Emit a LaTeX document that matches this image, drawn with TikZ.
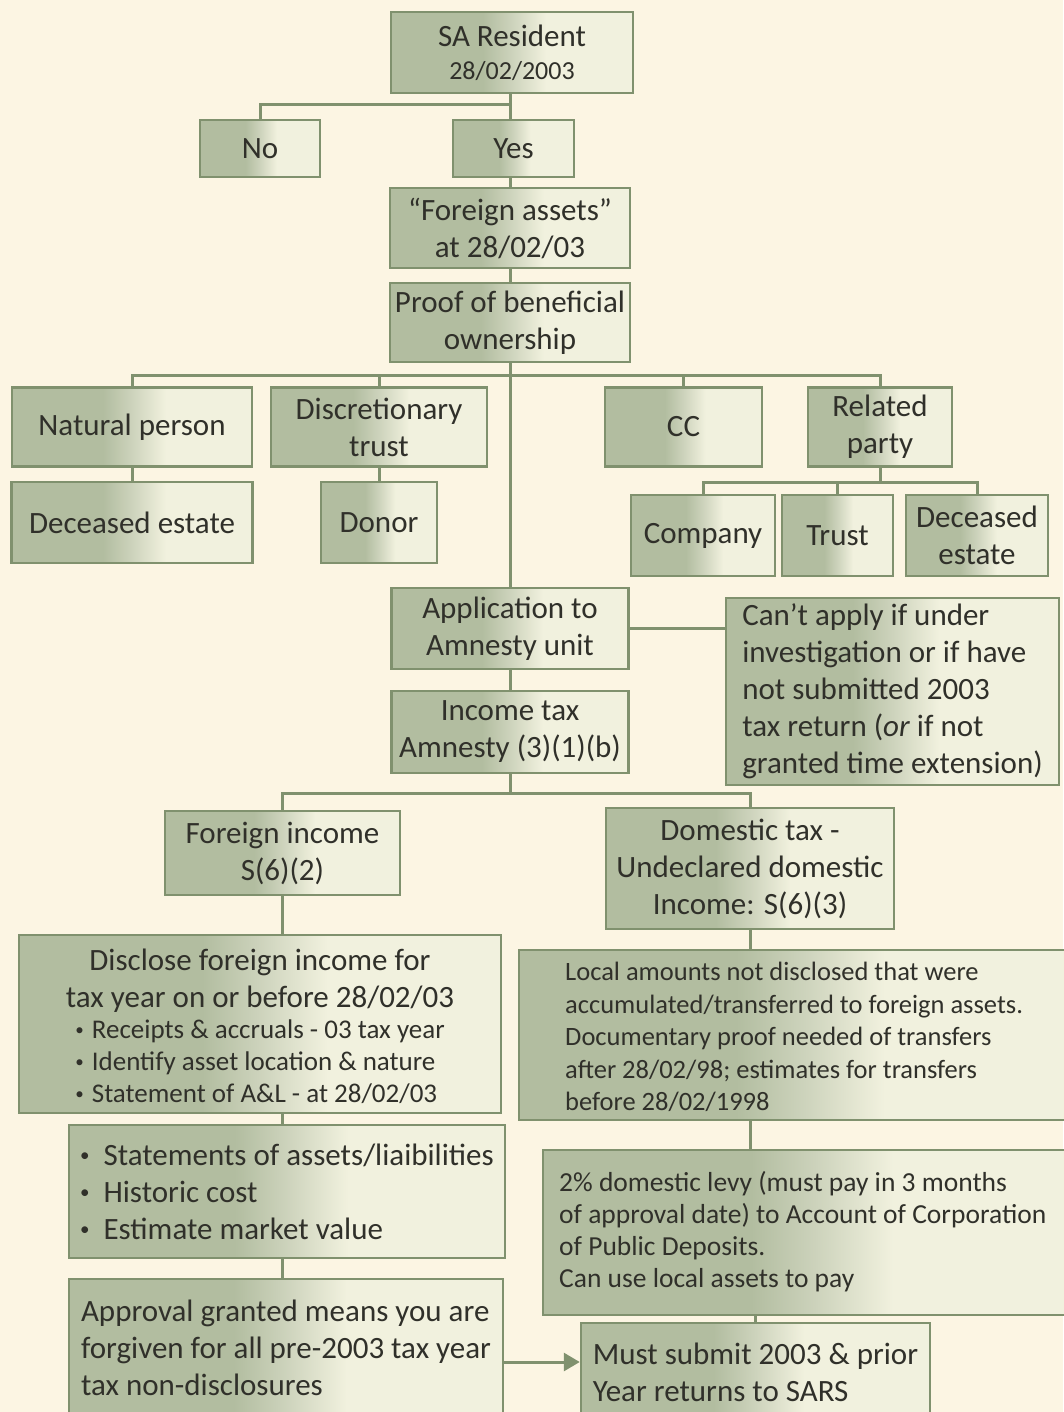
\documentclass[tikz,border=0pt]{standalone}
\usepackage{fontspec}
\setmainfont{Carlito}
\usetikzlibrary{arrows.meta}
\definecolor{bgcol}{RGB}{252,245,227}
\definecolor{boxdark}{RGB}{178,189,160}
\definecolor{boxmid}{RGB}{205,211,188}
\definecolor{boxlight}{RGB}{241,241,222}
\definecolor{edgecol}{RGB}{128,145,110}
\definecolor{txtcol}{RGB}{48,48,42}
\pgfdeclarehorizontalshading{boxshade}{100bp}{color(0bp)=(boxdark); color(25bp)=(boxdark); color(44bp)=(boxdark); color(50bp)=(boxmid); color(57bp)=(boxlight); color(75bp)=(boxlight); color(100bp)=(boxlight)}
\pgfdeclarelayer{bg}
\pgfsetlayers{bg,main}
\newcommand\fbig{\fontsize{31}{37}\selectfont}
\newcommand\fdate{\fontsize{26}{33}\selectfont}
\newcommand\fbul{\fontsize{27}{32}\selectfont}
\newcommand\floc{\fontsize{26.5}{32.5}\selectfont}
\newcommand\flev{\fontsize{27.5}{32}\selectfont}
\newcommand\smbul{\raisebox{0.12em}{\fontsize{17}{17}\selectfont •}\hspace{0.3em}}
\newcommand\bgbul{\raisebox{0.12em}{\fontsize{19}{19}\selectfont •}\hspace{0.45em}}
\begin{document}
\begin{tikzpicture}[x=1pt,y=-1pt,
  box/.style={rectangle, draw=edgecol, line width=2.5pt, shading=boxshade, text=txtcol, align=center, inner sep=0pt, font=\fbig},
  lbox/.style={box, align=left},
  txt/.style={text=txtcol, align=left, inner sep=0pt, anchor=west},
  conn/.style={draw=edgecol, line width=3pt}]
\useasboundingbox (0,0) rectangle (1063,1412);
% top
\node[box, minimum width=242pt, minimum height=81pt] (sa) at (512,52.5) {SA Resident\\[-4pt]{\fdate 28/02/2003}};
\node[box, minimum width=120pt, minimum height=57pt] (no) at (260,148.5) {No};
\node[box, minimum width=121pt, minimum height=57pt] (yes) at (513.5,148.5) {Yes};
\node[box, minimum width=240pt, minimum height=80pt] (fa) at (510,228) {“Foreign assets”\\at 28/02/03};
\node[box, minimum width=240pt, minimum height=79pt] (pr) at (510,322.5) {Proof of beneficial\\ownership};
% ownership types
\node[box, minimum width=240pt, minimum height=79pt] (np) at (132,427) {Natural person};
\node[box, minimum width=216pt, minimum height=79pt] (dt) at (379,427) {Discretionary\\trust};
\node[box, minimum width=157pt, minimum height=79pt] (cc) at (683.5,427) {CC};
\node[box, minimum width=144pt, minimum height=79pt] (rp) at (880,427) {Related\\party};
\node[box, minimum width=241pt, minimum height=81pt] (de) at (132,522.5) {Deceased estate};
\node[box, minimum width=116pt, minimum height=81pt] (dn) at (379,522.5) {Donor};
\node[box, minimum width=144pt, minimum height=81pt] (co) at (703,535.5) {Company};
\node[box, minimum width=111pt, minimum height=81pt] (tr) at (837.5,535.5) {Trust};
\node[box, minimum width=142pt, minimum height=81pt] (de2) at (977,535.5) {Deceased\\estate};
% amnesty
\node[box, minimum width=237pt, minimum height=81pt] (app) at (510,628.5) {Application to\\Amnesty unit};
\node[lbox, minimum width=333pt, minimum height=187pt] (cant) at (892.5,691.5) {Can’t apply if under\\investigation or if have\\not submitted 2003\\tax return (\textit{or} if not\\granted time extension)};
\node[box, minimum width=237pt, minimum height=82pt] (inc) at (510,732) {Income tax\\Amnesty (3)(1)(b)};
\node[box, minimum width=235pt, minimum height=84pt] (fi) at (282.5,853) {Foreign income\\S(6)(2)};
\node[box, minimum width=288pt, minimum height=121pt] (dom) at (750,868.5) {Domestic tax -\\Undeclared domestic\\Income: S(6)(3)};
% foreign branch
\node[box, minimum width=482pt, minimum height=178pt] (dis) at (260,1024) {};
\node[text=txtcol, align=center, inner sep=0pt, font=\fbig] (distxt) at (260,1031) {Disclose foreign income for\\tax year on or before 28/02/03\\[-6pt]{\fbul\begin{tabular}[t]{@{}l@{}}\smbul Receipts \& accruals - 03 tax year\\\smbul Identify asset location \& nature\\\smbul Statement of A\&L - at 28/02/03\end{tabular}}};
\node[lbox, minimum width=436pt, minimum height=133pt] (st) at (287,1191.5) {\bgbul Statements of assets/liaibilities\\\bgbul Historic cost\\\bgbul Estimate market value};
\node[lbox, minimum width=434pt, minimum height=138pt] (apr) at (286,1348) {Approval granted means you are\\forgiven for all pre-2003 tax year\\tax non-disclosures};
% domestic branch
\node[box, minimum width=571pt, minimum height=170pt] (loc) at (804.5,1035) {};
\node[txt, font=\floc] (loctxt) at (565,1037) {Local amounts not disclosed that were\\accumulated/transferred to foreign assets.\\Documentary proof needed of transfers\\after 28/02/98; estimates for transfers\\before 28/02/1998};
\node[box, minimum width=547pt, minimum height=165pt] (lev) at (816.5,1232.5) {};
\node[txt, font=\flev] (levtxt) at (559,1232) {2\% domestic levy (must pay in 3 months\\of approval date) to Account of Corporation\\of Public Deposits.\\Can use local assets to pay};
\node[lbox, minimum width=349pt, minimum height=98pt] (ms) at (755.5,1372) {Must submit 2003 \& prior\\Year returns to SARS};
% arrow
\draw[conn, -{Triangle[length=16pt,width=18pt]}] ([yshift=-14pt]apr.east) -- ([yshift=-14pt]apr.east -| ms.west);
% connectors
\begin{pgfonlayer}{bg}
\fill[bgcol] (0,0) rectangle (1063,1412);
\coordinate (j1) at (510,105);
\coordinate (j2) at (510,375);
\coordinate (j3) at (880,482);
\coordinate (j4) at (510,793);
\draw[conn] (j1 |- sa.south) -- (j1 |- yes.north);
\draw[conn] (j1) -| (no.north);
\draw[conn] (j1 |- yes.south) -- (fa.north);
\draw[conn] (fa.south) -- (pr.north);
\draw[conn] (pr.south) -- (app.north);
\draw[conn] (j2) -| (np.north);
\draw[conn] (j2) -| (dt.north);
\draw[conn] (j2) -| (cc.north);
\draw[conn] (j2) -| (rp.north);
\draw[conn] (np.south) -- (de.north);
\draw[conn] (dt.south) -- (dn.north);
\draw[conn] (rp.south) -- (j3);
\draw[conn] (j3) -| (co.north);
\draw[conn] (j3) -| (tr.north);
\draw[conn] (j3) -| (de2.north);
\draw[conn] (app.east) -- (app.east -| cant.west);
\draw[conn] (app.south) -- (inc.north);
\draw[conn] (inc.south) -- (j4);
\draw[conn] (j4) -| (fi.north);
\draw[conn] (j4) -| (dom.north);
\draw[conn] (fi.south) -- (fi.south |- st.north);
\draw[conn] (fi.south |- st.south) -- (fi.south |- apr.north);
\draw[conn] (dom.south) -- (dom.south |- lev.north);
\draw[conn] (ms.north) -- (ms.north |- lev.south);
\end{pgfonlayer}
\end{tikzpicture}
\end{document}
